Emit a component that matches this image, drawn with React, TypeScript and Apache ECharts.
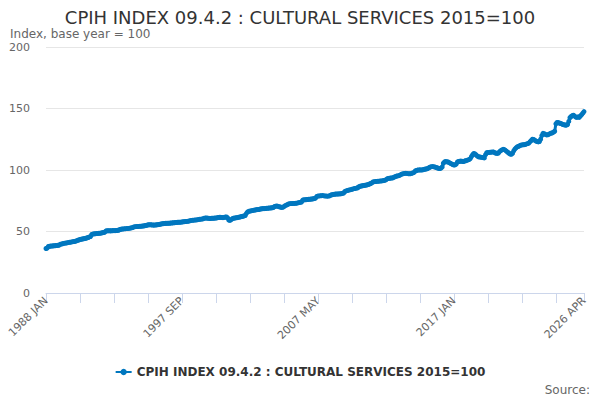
import { useEffect, useRef } from 'react';
import * as echarts from 'echarts';

const MONTHS = ['JAN', 'FEB', 'MAR', 'APR', 'MAY', 'JUN', 'JUL', 'AUG', 'SEP', 'OCT', 'NOV', 'DEC'];
const FIRST_YEAR = 1988;
const LAST_MONTHS = 4; // 2026 JAN..APR

// monthly index values, one row per year
const values1988to1999 = [
  36.2, 36.5, 37.8, 38.0, 38.1, 38.2, 38.3, 38.4, 38.5, 38.6, 38.7, 38.8,
  39.6, 39.8, 40.0, 40.3, 40.5, 40.6, 40.8, 41.0, 41.2, 41.3, 41.5, 41.7,
  41.9, 42.1, 42.4, 42.8, 43.1, 43.5, 43.7, 43.9, 44.1, 44.3, 44.5, 44.8,
  45.1, 45.6, 45.9, 47.6, 47.9, 48.1, 48.2, 48.3, 48.4, 48.5, 48.6, 48.7,
  49.0, 49.2, 49.4, 50.3, 50.6, 50.6, 50.6, 50.5, 50.6, 50.7, 50.7, 50.7,
  50.8, 50.9, 51.0, 51.6, 51.8, 52.0, 52.1, 52.2, 52.3, 52.4, 52.5, 52.6,
  52.8, 53.0, 53.2, 53.7, 53.9, 54.0, 54.0, 54.1, 54.2, 54.3, 54.4, 54.5,
  54.7, 54.9, 55.1, 55.4, 55.5, 55.5, 55.4, 55.3, 55.2, 55.3, 55.4, 55.5,
  55.7, 55.8, 56.0, 56.3, 56.4, 56.5, 56.6, 56.6, 56.7, 56.7, 56.8, 56.9,
  57.0, 57.1, 57.2, 57.3, 57.4, 57.5, 57.5, 57.6, 57.7, 57.9, 58.0, 58.1,
  58.2, 58.3, 58.5, 58.8, 59.0, 59.1, 59.2, 59.3, 59.4, 59.5, 59.7, 59.9,
  60.0, 60.1, 60.3, 60.8, 60.9, 61.0, 60.8, 60.7, 60.6, 60.7, 60.8, 60.8,
];
const values2000to2012 = [
  60.9, 61.0, 61.1, 61.4, 61.5, 61.5, 61.4, 61.3, 61.5, 61.7, 61.8, 61.0,
  59.2, 59.0, 59.6, 60.5, 60.8, 61.0, 61.1, 61.3, 61.5, 61.7, 61.9, 62.2,
  62.4, 62.7, 63.0, 64.8, 65.9, 66.4, 66.6, 66.8, 67.0, 67.2, 67.4, 67.6,
  67.8, 67.9, 68.0, 68.3, 68.5, 68.6, 68.6, 68.7, 68.8, 68.9, 69.0, 69.1,
  69.2, 69.3, 69.5, 70.3, 70.6, 70.7, 70.4, 70.1, 69.8, 69.6, 69.7, 70.2,
  71.0, 71.5, 71.8, 72.4, 72.6, 72.7, 72.7, 72.8, 72.8, 72.9, 73.0, 73.3,
  73.5, 73.7, 74.0, 75.5, 75.7, 75.8, 75.9, 76.0, 76.1, 76.2, 76.3, 76.4,
  76.6, 76.8, 77.2, 78.5, 78.8, 78.9, 79.0, 79.1, 79.2, 79.0, 78.9, 78.8,
  78.7, 78.8, 79.0, 79.6, 79.9, 80.1, 80.3, 80.4, 80.5, 80.5, 80.6, 80.6,
  80.8, 81.0, 81.3, 82.5, 83.0, 83.3, 83.6, 83.8, 84.0, 84.3, 84.6, 84.9,
  85.0, 85.3, 85.6, 86.4, 86.8, 87.0, 87.2, 87.4, 87.5, 87.7, 87.9, 88.2,
  88.6, 89.0, 89.5, 90.3, 90.5, 90.6, 90.7, 90.8, 90.9, 91.0, 91.1, 91.2,
  91.4, 91.6, 92.0, 92.8, 93.1, 93.3, 93.4, 93.5, 93.7, 94.2, 94.6, 95.0,
];
const values2013to2026 = [
  95.2, 95.4, 95.8, 96.5, 96.8, 97.0, 97.2, 97.3, 97.2, 97.0, 96.9, 97.0,
  97.3, 97.6, 98.0, 99.2, 99.6, 99.9, 100.0, 100.1, 100.0, 100.1, 100.3, 100.6,
  100.8, 101.0, 101.3, 102.0, 102.5, 102.7, 102.8, 102.6, 102.4, 102.0, 101.6, 101.3,
  101.2, 101.5, 102.5, 105.5, 106.6, 106.8, 106.7, 106.5, 106.0, 105.4, 105.0, 104.5,
  104.0, 104.2, 104.8, 106.5, 106.9, 107.1, 107.2, 107.0, 106.9, 107.2, 107.5, 107.8,
  108.2, 108.5, 109.3, 111.0, 112.5, 113.4, 113.0, 112.2, 111.3, 110.8, 110.6, 110.4,
  110.2, 110.0, 109.8, 112.5, 114.0, 114.2, 114.3, 114.4, 114.5, 114.7, 114.6, 114.0,
  113.6, 113.5, 113.8, 115.0, 115.8, 116.3, 116.8, 116.6, 116.0, 115.2, 114.4, 113.6,
  113.0, 112.8, 113.5, 115.5, 117.0, 118.0, 118.8, 119.2, 119.6, 120.2, 120.4, 120.5,
  120.6, 120.8, 121.2, 121.5, 121.9, 123.0, 124.0, 125.0, 124.8, 124.2, 123.5, 123.1,
  122.8, 123.2, 125.0, 128.0, 129.8, 129.5, 129.0, 128.5, 128.6, 129.0, 129.6, 130.0,
  130.2, 130.8, 131.5, 137.5, 138.6, 138.5, 138.2, 137.8, 137.5, 137.0, 136.8, 136.5,
  136.5, 137.0, 139.5, 142.5, 143.5, 144.2, 144.5, 143.8, 143.0, 142.8, 143.2, 142.8,
  144.0, 145.0, 146.2, 147.5,
];

const seriesValues = [...values1988to1999, ...values2000to2012, ...values2013to2026];

const categories: string[] = [];
for (let y = FIRST_YEAR; y <= 2026; y++) {
  const count = y === 2026 ? LAST_MONTHS : 12;
  for (let m = 0; m < count; m++) categories.push(`${y} ${MONTHS[m]}`);
}

const LABEL_STEP = 116;
const TICK_STEP = 29;
const yTicks = [0, 50, 100, 150, 200];

const TITLE = 'CPIH INDEX 09.4.2 : CULTURAL SERVICES 2015=100';
const FONT = '"DejaVu Sans", sans-serif';

export default function App() {
  const chartRef = useRef(null);
  useEffect(() => {
    const chart = echarts.init(chartRef.current, null, { renderer: 'svg' });
    const last = categories.length - 1;
    const option = {
      animation: false,
      textStyle: { fontFamily: FONT },
      title: [
        {
          text: TITLE,
          left: 'center',
          top: 9,
          padding: 0,
          textStyle: { fontSize: 18, lineHeight: 16, fontWeight: 'normal', color: '#333333', fontFamily: FONT },
        },
        {
          text: 'Index, base year = 100',
          left: 10,
          top: 28,
          padding: 0,
          textStyle: { fontSize: 12, lineHeight: 12, fontWeight: 'normal', color: '#666666', fontFamily: FONT },
        },
      ],
      grid: { left: 46, right: 16, top: 47, bottom: 107 },
      legend: {
        bottom: 17,
        left: 'center',
        itemWidth: 16,
        itemHeight: 8,
        textStyle: { fontSize: 12, fontWeight: 'bold', color: '#333333', fontFamily: FONT },
        data: [TITLE],
      },
      xAxis: {
        type: 'category',
        boundaryGap: false,
        data: categories,
        axisLine: { lineStyle: { color: '#ccd6eb' } },
        axisTick: {
          length: 10,
          lineStyle: { color: '#ccd6eb' },
          interval: (i: number) => i % TICK_STEP === 0 || i === last,
        },
        axisLabel: {
          rotate: 45,
          fontSize: 11,
          color: '#666666',
          margin: 6,
          interval: (i: number) => i % LABEL_STEP === 0 || i === last,
        },
      },
      yAxis: {
        type: 'value',
        min: yTicks[0],
        max: yTicks[yTicks.length - 1],
        interval: 50,
        axisLine: { show: false },
        axisTick: { show: false },
        axisLabel: { fontSize: 11, color: '#666666', margin: 16 },
        splitLine: { lineStyle: { color: '#e6e6e6' } },
      },
      graphic: [
        {
          type: 'text',
          right: 10,
          bottom: 4,
          style: { text: 'Source:', fontSize: 12, fill: '#666666', fontFamily: FONT },
        },
      ],
      series: [
        {
          name: TITLE,
          type: 'line',
          data: seriesValues,
          symbol: 'circle',
          symbolSize: 5,
          showAllSymbol: true,
          color: '#0077bf',
          lineStyle: { width: 3, color: '#0077bf' },
          itemStyle: { color: '#0077bf' },
        },
      ],
    };
    chart.setOption(option);
    return () => {
      chart.dispose();
    };
  }, []);

  return (
    <div
      ref={chartRef}
      style={{ width: '600px', height: '400px', position: 'absolute', left: 0, top: 0 }}
    />
  );
}
